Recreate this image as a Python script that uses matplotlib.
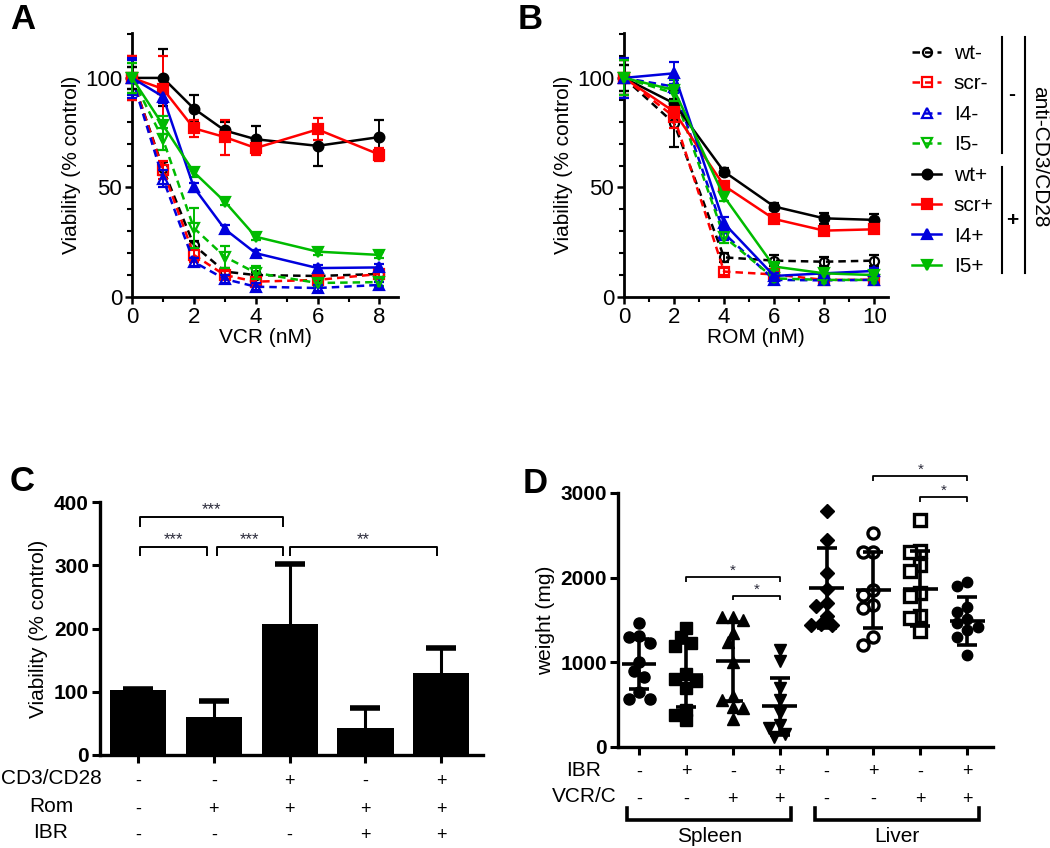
import numpy as np
import matplotlib
matplotlib.use("Agg")
import matplotlib.pyplot as plt
from matplotlib.lines import Line2D
from matplotlib.transforms import blended_transform_factory as btf

plt.rcParams['font.family'] = ['Liberation Sans', 'DejaVu Sans']

# ---------------- data ----------------
series_names = ['wt-', 'scr-', 'I4-', 'I5-', 'wt+', 'scr+', 'I4+', 'I5+']

# Panel A: viability (% control) vs VCR (nM)
vcr_conc = [0, 1, 2, 3, 4, 6, 8]
a_wt_minus = [100, 58.7, 23.7, 11.6, 10.0, 9.6, 10.5]
a_scr_minus = [100, 58.0, 19.2, 10.0, 7.0, 7.8, 10.5]
a_i4_minus = [100, 54.0, 16.0, 8.2, 4.7, 4.1, 5.5]
a_i5_minus = [100, 72.0, 31.5, 18.4, 11.0, 6.4, 6.8]
a_wt_plus = [100, 100, 86, 76, 72, 69, 73]
a_scr_plus = [100, 95, 77, 73, 68, 76.5, 65]
a_i4_plus = [100, 91.5, 50, 31, 20, 13.2, 13.5]
a_i5_plus = [100, 78.5, 57, 43.5, 27.5, 20.7, 19.2]
a_wt_minus_err = [5, 3, 2, 1.5, 1.5, 1.5, 1.5]
a_scr_minus_err = [10, 4, 3, 2, 1.5, 2, 2]
a_i4_minus_err = [8, 4, 2, 2, 1.5, 1.5, 1.5]
a_i5_minus_err = [7, 5, 9, 5, 3, 2, 2]
a_wt_plus_err = [5, 13, 6, 4, 6, 9, 8]
a_scr_plus_err = [10, 15, 4, 8, 3, 5, 3]
a_i4_plus_err = [9, 3, 2, 2, 1.5, 1.5, 1.5]
a_i5_plus_err = [7, 4, 2, 1.5, 1.5, 1.5, 1.5]

# Panel B: viability (% control) vs ROM (nM)
rom_conc = [0, 2, 4, 6, 8, 10]
b_wt_minus = [100, 79.3, 18.1, 16.6, 16.1, 16.6]
b_scr_minus = [100, 82.3, 11.6, 10.3, 7.8, 7.9]
b_i4_minus = [100, 96, 29, 7.8, 7.6, 7.8]
b_i5_minus = [100, 93, 27.5, 8.5, 7.8, 7.8]
b_wt_plus = [100, 88.4, 57.2, 41.3, 35.9, 35.2]
b_scr_plus = [100, 84.6, 50.8, 35.6, 30.3, 30.9]
b_i4_plus = [100, 102.1, 33.6, 9.6, 10.8, 11.9]
b_i5_plus = [100, 94.5, 45.8, 13.9, 10.8, 10.0]
b_wt_minus_err = [6, 11, 2, 2.5, 2, 2.5]
b_scr_minus_err = [8, 5, 1.5, 1.5, 1.5, 1.5]
b_i4_minus_err = [8, 3, 3, 1.5, 1.5, 1.5]
b_i5_minus_err = [8, 4, 3, 1.5, 1.5, 1.5]
b_wt_plus_err = [6, 6, 1.5, 1.5, 2.5, 2.5]
b_scr_plus_err = [8, 3, 1.5, 1.5, 1.5, 1.5]
b_i4_plus_err = [9, 5, 3, 1.5, 1.5, 1.5]
b_i5_plus_err = [8, 5, 2, 1.5, 1.5, 1.5]

# Panel C
c_cd3 = ['-', '-', '+', '-', '+']
c_rom = ['-', '+', '+', '+', '+']
c_ibr = ['-', '-', '-', '+', '+']
c_mean = [103, 60, 207, 43, 130]
c_err = [2, 25, 95, 31, 39]
c_sig = [(0, 1, '***'), (1, 2, '***'), (2, 4, '**'), (0, 2, '***')]

# Panel D: organ weight (mg)
d_ibr = ['-', '+', '-', '+', '-', '+', '-', '+']
d_vcr = ['-', '-', '+', '+', '-', '-', '+', '+']
d_organs = ['Spleen', 'Liver']
d_g1 = [1460, 1310, 1300, 1230, 1000, 900, 830, 650, 570, 570]
d_g2 = [1410, 1300, 1230, 1190, 860, 800, 780, 700, 440, 380, 320]
d_g3 = [1530, 1530, 1500, 1350, 1240, 1000, 600, 550, 470, 460, 330]
d_g4 = [1140, 1010, 700, 560, 400, 260, 220, 150, 120]
d_g5 = [2790, 2450, 2060, 1870, 1700, 1660, 1550, 1450, 1440, 1440]
d_g6 = [2530, 2300, 2300, 1860, 1800, 1680, 1640, 1300, 1210]
d_g7 = [2680, 2320, 2300, 2150, 2080, 1820, 1780, 1550, 1520, 1370]
d_g8 = [1950, 1900, 1650, 1600, 1510, 1470, 1420, 1380, 1300, 1090]
d_mean = [980, 850, 1010, 480, 1880, 1855, 1870, 1490]
d_sd = [290, 380, 470, 340, 470, 450, 440, 280]
d_sig = [(1, 3, '*', 2008), (2, 3, '*', 1787), (5, 7, '*', 3200), (6, 7, '*', 2953)]

# ---------------- layout ----------------
W, H = 1050, 848
fig = plt.figure(figsize=(W / 100, H / 100), dpi=100)


def rect(l, t, r, b):
    return [l / W, 1 - b / H, (r - l) / W, (b - t) / H]


def fy(px):
    return 1 - px / H


axA = fig.add_axes(rect(132, 33, 398, 297))
axB = fig.add_axes(rect(624, 33, 888, 297))
axC = fig.add_axes(rect(100, 502, 483, 755))
axD = fig.add_axes(rect(618, 493, 993, 747))

FS = 15
TFS = 16
col_of = {'wt': '#000000', 'scr': '#ff0000', 'I4': '#0000dd', 'I5': '#00bb00'}
mk_of = {'wt': 'o', 'scr': 's', 'I4': '^', 'I5': 'v'}


def style(name):
    base = name[:-1]
    filled = name.endswith('+')
    return col_of[base], mk_of[base], filled


def setup_curve_axis(ax, xmax, xmaj, xmin, xlabel):
    ax.set_xlim(0, xmax)
    ax.set_ylim(0, 120.5)
    ax.set_xticks(xmaj)
    ax.set_xticks(xmin, minor=True)
    ax.set_yticks([0, 50, 100])
    ax.set_yticks(np.arange(10, 121, 10), minor=True)
    for s in ['top', 'right']:
        ax.spines[s].set_visible(False)
    for s in ['left', 'bottom']:
        ax.spines[s].set_linewidth(2.0)
    ax.tick_params(which='major', length=5, width=1.8, labelsize=TFS, pad=2)
    ax.tick_params(which='minor', length=3.5, width=1.5)
    ax.set_xlabel(xlabel, fontsize=FS, labelpad=0)
    ax.set_ylabel('Viability (% control)', fontsize=FS, labelpad=3)


def plot_curves(ax, x, means, errs):
    order = [0, 1, 2, 3, 7, 6, 5, 4]
    for i in order:
        name = series_names[i]
        col, mk, filled = style(name)
        ax.errorbar(x, means[i], yerr=errs[i], color=col, ecolor=col,
                    elinewidth=1.4, capsize=3.5, capthick=1.4,
                    linestyle='-' if filled else (0, (3, 2)), lw=1.8,
                    marker=mk, ms=7 if filled else 6.5,
                    mfc=col if filled else 'none', mec=col, mew=1.6,
                    clip_on=False, zorder=3 + i * 0.1)


plot_curves(axA, vcr_conc,
            [a_wt_minus, a_scr_minus, a_i4_minus, a_i5_minus,
             a_wt_plus, a_scr_plus, a_i4_plus, a_i5_plus],
            [a_wt_minus_err, a_scr_minus_err, a_i4_minus_err, a_i5_minus_err,
             a_wt_plus_err, a_scr_plus_err, a_i4_plus_err, a_i5_plus_err])
setup_curve_axis(axA, 8.6, [0, 2, 4, 6, 8], [1, 3, 5, 7], 'VCR (nM)')

plot_curves(axB, rom_conc,
            [b_wt_minus, b_scr_minus, b_i4_minus, b_i5_minus,
             b_wt_plus, b_scr_plus, b_i4_plus, b_i5_plus],
            [b_wt_minus_err, b_scr_minus_err, b_i4_minus_err, b_i5_minus_err,
             b_wt_plus_err, b_scr_plus_err, b_i4_plus_err, b_i5_plus_err])
setup_curve_axis(axB, 10.55, [0, 2, 4, 6, 8, 10], [1, 3, 5, 7, 9], 'ROM (nM)')

# legend
handles = []
for name in series_names:
    col, mk, filled = style(name)
    handles.append(Line2D([], [], color=col, lw=1.8,
                          linestyle='-' if filled else (0, (3, 2)),
                          marker=mk, ms=7 if filled else 6.5,
                          mfc=col if filled else 'none', mec=col, mew=1.6))
fig.legend(handles, series_names, loc='upper left',
           bbox_to_anchor=(912 / W, fy(44)), bbox_transform=fig.transFigure,
           frameon=False, fontsize=FS, handlelength=1.4, handletextpad=0.6,
           labelspacing=0.55, borderpad=0, borderaxespad=0)
for (x0, y0, y1) in [(1002, 37, 153), (1002, 167, 273), (1025, 37, 273)]:
    fig.add_artist(Line2D([x0 / W, x0 / W], [fy(y0), fy(y1)], color='k',
                          lw=1.5, transform=fig.transFigure))
fig.text(1012 / W, fy(95), '-', fontsize=FS, fontweight='bold',
         ha='center', va='center')
fig.text(1012 / W, fy(220), '+', fontsize=FS, fontweight='bold',
         ha='center', va='center')
fig.text(1040 / W, fy(157), 'anti-CD3/CD28', fontsize=FS, rotation=270,
         ha='center', va='center')

# ---------------- Panel C ----------------
xc = np.arange(len(c_mean))
axC.bar(xc, c_mean, width=0.74, color='k', zorder=2)
ebc = axC.errorbar(xc, c_mean, yerr=[np.zeros(len(c_err)), c_err], fmt='none',
                   ecolor='k', elinewidth=2.2, capsize=11, capthick=4, zorder=3,
                   clip_on=False)
caps = ebc.lines[1]
if len(caps) == 2:
    caps[0].set_visible(False)
axC.set_xlim(-0.5, 4.55)
axC.set_ylim(0, 400)
axC.set_yticks([0, 100, 200, 300, 400])
axC.set_xticks(xc)
axC.set_xticklabels([''] * len(xc))
for s in ['top', 'right']:
    axC.spines[s].set_visible(False)
for s in ['left', 'bottom']:
    axC.spines[s].set_linewidth(2.4)
axC.tick_params(axis='y', length=6, width=2.2, labelsize=FS, pad=2)
axC.tick_params(axis='x', length=6, width=2.2)
for lab in axC.get_yticklabels():
    lab.set_fontweight('bold')
axC.set_ylabel('Viability (% control)', fontsize=FS, labelpad=4)

# significance brackets
c_insets = {(0, 1): (0.03, 0.09), (1, 2): (0.04, 0.09), (2, 4): (0.0, 0.05),
            (0, 2): (0.03, 0.09)}
c_heights = {(0, 1): 329, (1, 2): 329, (2, 4): 329, (0, 2): 376}
for (i, j, txt) in c_sig:
    li, ri = c_insets[(i, j)]
    y = c_heights[(i, j)]
    x1, x2 = xc[i] + li, xc[j] - ri
    axC.plot([x1, x1, x2, x2], [y - 15, y, y, y - 15], color='k', lw=1.4,
             clip_on=False, solid_capstyle='butt')
    axC.annotate(txt, ((x1 + x2) / 2, y), xytext=(0, 2),
                 textcoords='offset points', ha='center', va='baseline',
                 fontsize=12, color='#2a2a3a', annotation_clip=False)

tC = btf(axC.transData, fig.transFigure)
for row, (lab, ypx) in enumerate(zip(['CD3/CD28', 'Rom', 'IBR'], [778, 806, 832])):
    fig.text(51 / W, fy(ypx), lab, fontsize=FS, ha='center', va='center')
    signs = [c_cd3, c_rom, c_ibr][row]
    for k, sgn in enumerate(signs):
        axC.text(xc[k], fy(ypx + 3), sgn, transform=tC, fontsize=13,
                 ha='center', va='center')

# ---------------- Panel D ----------------
groups = [d_g1, d_g2, d_g3, d_g4, d_g5, d_g6, d_g7, d_g8]
markers = ['o', 's', '^', 'v', 'D', 'o', 's', 'o']
filled = [True, True, True, True, True, False, False, True]
msizes = [8, 8, 8.5, 8.5, 7.5, 8, 8, 7.5]
XPX, YPX = 47.0, 254.0 / 3000.0


def swarm(vals, diam):
    vals = np.asarray(vals, float)
    order = np.argsort(-vals)
    offs = np.zeros(len(vals))
    placed = []
    for i in order:
        yv = vals[i] * YPX
        for k in [0, -1, 1, -2, 2, -3, 3, -4, 4]:
            xo = k * diam * 0.5
            if all((xo - px) ** 2 + (yv - py) ** 2 >= (0.9 * diam) ** 2
                   for px, py in placed):
                break
        placed.append((xo, yv))
        offs[i] = xo / XPX
    return offs


for g, vals in enumerate(groups):
    offs = swarm(vals, 10.5)
    axD.plot(g + offs, vals, linestyle='none', marker=markers[g],
             ms=msizes[g], mfc='k' if filled[g] else 'white', mec='k',
             mew=2.4 if not filled[g] else 1.0, zorder=2, clip_on=False)
xg = np.arange(len(groups))
axD.errorbar(xg, d_mean, yerr=d_sd, fmt='none', ecolor='k', elinewidth=2.6,
             capsize=7.5, capthick=2.6, zorder=4)
axD.hlines(d_mean, xg - 0.37, xg + 0.37, color='k', lw=2.6, zorder=4)
axD.set_xlim(-0.45, 7.55)
axD.set_ylim(0, 3000)
axD.set_yticks([0, 1000, 2000, 3000])
axD.set_xticks(xg)
axD.set_xticklabels([''] * len(xg))
for s in ['top', 'right']:
    axD.spines[s].set_visible(False)
for s in ['left', 'bottom']:
    axD.spines[s].set_linewidth(2.4)
axD.tick_params(axis='y', length=6, width=2.2, labelsize=FS, pad=2)
axD.tick_params(axis='x', length=6, width=2.2)
for lab in axD.get_yticklabels():
    lab.set_fontweight('bold')
axD.set_ylabel('weight (mg)', fontsize=FS, labelpad=4)

for (i, j, txt, y) in d_sig:
    axD.plot([i, i, j, j], [y - 55, y, y, y - 55], color='k', lw=1.3,
             clip_on=False, solid_capstyle='butt')
    axD.annotate(txt, ((i + j) / 2, y), xytext=(0, 1.5),
                 textcoords='offset points', ha='center', va='baseline',
                 fontsize=11, color='#2a2a3a', annotation_clip=False)

tD = btf(axD.transData, fig.transFigure)
for row, (lab, ypx) in enumerate(zip(['IBR', 'VCR/C'], [770, 797])):
    fig.text(584 / W, fy(ypx), lab, fontsize=FS, ha='center', va='center')
    signs = [d_ibr, d_vcr][row]
    for k, sgn in enumerate(signs):
        axD.text(xg[k], fy(ypx + 2), sgn, transform=tD, fontsize=13,
                 ha='center', va='center')
for gi, organ in enumerate(d_organs):
    x1, x2 = gi * 4 - 0.25, gi * 4 + 3 + 0.25
    axD.plot([x1, x1, x2, x2], [fy(808), fy(820), fy(820), fy(808)],
             transform=tD, color='k', lw=2.6, clip_on=False,
             solid_joinstyle='miter')
    axD.text((x1 + x2) / 2, fy(837), organ, transform=tD, fontsize=FS,
             ha='center', va='center')

# panel letters
for lab, (xp, yp) in zip('ABCD', [(10, 3), (518, 3), (10, 465), (523, 467)]):
    fig.text(xp / W, fy(yp), lab, fontsize=25, fontweight='bold',
             ha='left', va='top')

fig.savefig('out.png', dpi=100)
